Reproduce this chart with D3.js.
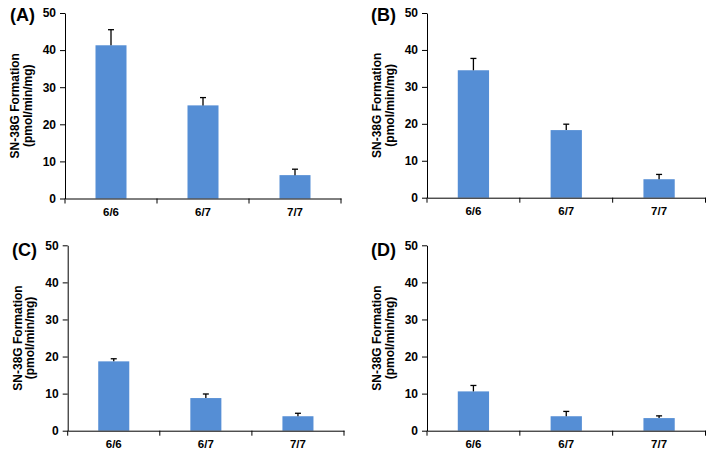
<!DOCTYPE html>
<html>
<head>
<meta charset="utf-8">
<script src="https://cdn.jsdelivr.net/npm/d3@7"></script>
<style>
  html, body { margin: 0; padding: 0; background: #fff; }
  svg { display: block; font-family: Arial, "Liberation Sans", sans-serif; }
</style>
</head>
<body>
<svg id="chart" width="708" height="459"></svg>
<script>
// ---- data ----
const categories = ["6/6", "6/7", "7/7"];
const panelLabels = ["(A)", "(B)", "(C)", "(D)"];
const meansA = [41.3, 25.1, 6.3];
const errorsA = [4.2, 2.1, 1.6];
const meansB = [34.5, 18.3, 5.0];
const errorsB = [3.2, 1.6, 1.3];
const meansC = [18.7, 8.8, 3.9];
const errorsC = [0.7, 1.1, 0.8];
const meansD = [10.6, 3.9, 3.4];
const errorsD = [1.6, 1.3, 0.6];
const yTicks = [0, 10, 20, 30, 40, 50];
const yTitleLines = ["SN-38G Formation", "(pmol/min/mg)"];

// ---- layout ----
const panels = [
  { label: panelLabels[0], means: meansA, errs: errorsA, x0: 65, x1: 341, yTop: 13, yBot: 198.5, lx: 10, ly: 21 },
  { label: panelLabels[1], means: meansB, errs: errorsB, x0: 427, x1: 705.5, yTop: 13, yBot: 197.7, lx: 371, ly: 21 },
  { label: panelLabels[2], means: meansC, errs: errorsC, x0: 67.7, x1: 344, yTop: 245.3, yBot: 430.7, lx: 12, ly: 256 },
  { label: panelLabels[3], means: meansD, errs: errorsD, x0: 427, x1: 705.5, yTop: 245.3, yBot: 430.7, lx: 371, ly: 256 }
];
const barColor = "#558ED5";

const svg = d3.select("#chart");

panels.forEach(p => {
  const g = svg.append("g");
  const x = d3.scaleBand().domain(categories).range([p.x0, p.x1]).paddingInner(0.663).paddingOuter(0.3315);
  const y = d3.scaleLinear().domain([0, 50]).range([p.yBot, p.yTop]);

  // bars
  g.selectAll("rect.bar").data(categories).join("rect")
    .attr("class", "bar")
    .attr("x", d => x(d))
    .attr("width", x.bandwidth())
    .attr("y", (d, i) => y(p.means[i]))
    .attr("height", (d, i) => y(0) - y(p.means[i]))
    .attr("fill", barColor);

  // error bars (upper only)
  const cap = 3;
  categories.forEach((c, i) => {
    const cx = x(c) + x.bandwidth() / 2;
    g.append("line")
      .attr("x1", cx).attr("x2", cx)
      .attr("y1", y(p.means[i])).attr("y2", y(p.means[i] + p.errs[i]))
      .attr("stroke", "#000").attr("stroke-width", 1.3);
    g.append("line")
      .attr("x1", cx - cap).attr("x2", cx + cap)
      .attr("y1", y(p.means[i] + p.errs[i])).attr("y2", y(p.means[i] + p.errs[i]))
      .attr("stroke", "#000").attr("stroke-width", 1.3);
  });

  // y axis
  const yAxis = g.append("g")
    .attr("transform", `translate(${p.x0},0)`)
    .call(d3.axisLeft(y).tickValues(yTicks).tickSize(5).tickPadding(4).tickSizeOuter(0));
  yAxis.select(".domain").attr("stroke", "#000").attr("stroke-width", 1);
  yAxis.selectAll(".tick line").attr("stroke", "#000");
  yAxis.selectAll(".tick text").attr("font-size", 12).attr("font-weight", "bold").attr("fill", "#000");

  // x axis
  const xAxis = g.append("g")
    .attr("transform", `translate(0,${p.yBot})`)
    .call(d3.axisBottom(x).tickSize(0).tickPadding(9).tickSizeOuter(0));
  xAxis.select(".domain").attr("stroke", "#000").attr("stroke-width", 1);
  xAxis.selectAll(".tick text").attr("font-size", 11.5).attr("font-weight", "bold").attr("fill", "#000");
  // boundary ticks between categories
  const step = x.step();
  const bounds = d3.range(categories.length + 1).map(i => p.x0 + i * step);
  xAxis.selectAll("line.bound").data(bounds).join("line")
    .attr("class", "bound")
    .attr("x1", d => d).attr("x2", d => d)
    .attr("y1", 0).attr("y2", 5)
    .attr("stroke", "#000");

  // y title
  const yc = (p.yTop + p.yBot) / 2;
  const t = g.append("text")
    .attr("transform", `translate(${p.x0 - 46},${yc}) rotate(-90)`)
    .attr("text-anchor", "middle")
    .attr("font-size", 12).attr("font-weight", "bold");
  yTitleLines.forEach((line, i) => {
    t.append("tspan").attr("x", 0).attr("dy", i === 0 ? 0 : 12.5).text(line);
  });

  // panel label
  g.append("text")
    .attr("x", p.lx).attr("y", p.ly)
    .attr("font-size", 18).attr("font-weight", "bold")
    .text(p.label);
});
</script>
</body>
</html>
